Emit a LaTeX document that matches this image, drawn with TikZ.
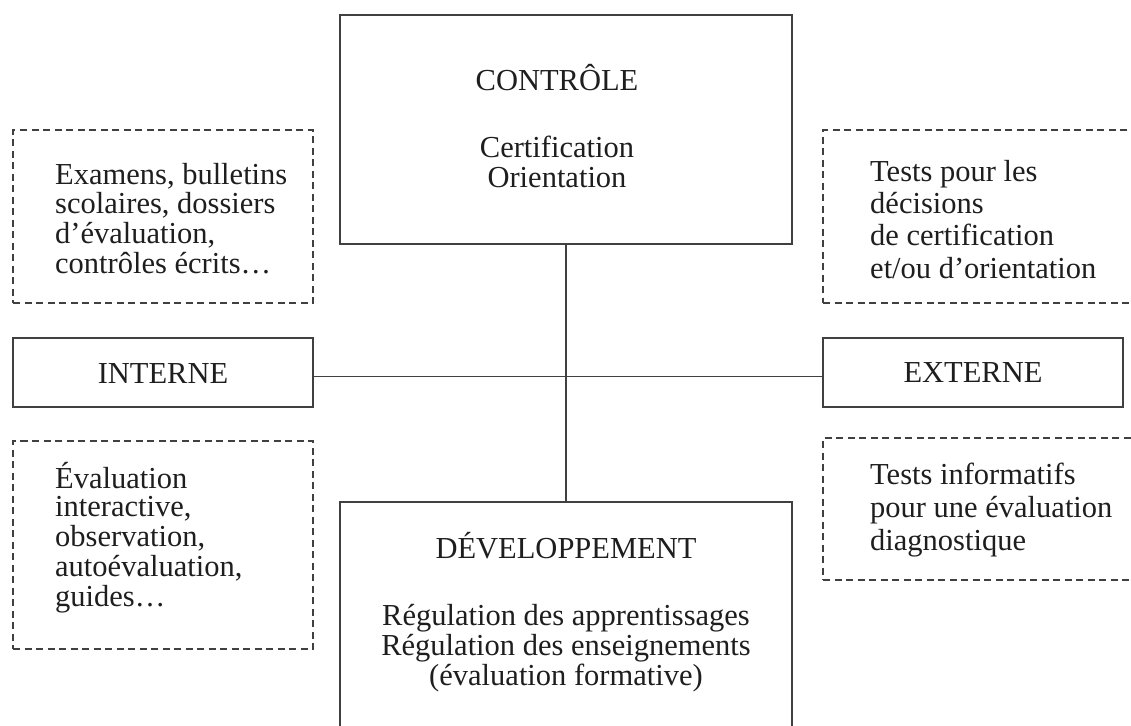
\documentclass[tikz,border=0pt]{standalone}
\usepackage{fontspec}
\setmainfont{Liberation Serif}
\definecolor{ink}{HTML}{1E1E1E}
\definecolor{rule}{HTML}{404040}
\begin{document}
\begin{tikzpicture}[x=1pt,y=-1pt,
  solidbox/.style={draw=rule,line width=1.4pt,rectangle,inner sep=0pt},
  dashbox/.style={draw=rule,line width=1.2pt,rectangle,inner sep=0pt,
    dash pattern=on 7pt off 4.5pt},
  link/.style={draw=rule,line width=1.4pt},
  txt/.style={inner sep=0pt,text=ink,font=\fontsize{30.5}{29.5}\selectfont},
  lines/.style={txt,anchor=base west},
  title/.style={txt,anchor=base}]
\clip (0,0) rectangle (1131,725);
\fill[white] (0,0) rectangle (1131,725);

% main boxes
\node[solidbox,minimum width=452pt,minimum height=229pt] (ctrl) at (566,129.5) {};
\node[solidbox,minimum width=452pt,minimum height=240pt] (dev) at (566,622) {};
\node[solidbox,minimum width=300pt,minimum height=69pt] (int) at (163,372.5) {};
\node[solidbox,minimum width=300pt,minimum height=69pt] (ext) at (973,372.5) {};

% dashed boxes of examples
\node[dashbox,minimum width=300pt,minimum height=173pt] (intA) at (163,216.5) {};
\node[dashbox,minimum width=300pt,minimum height=208pt] (intB) at (163,545) {};
\node[dashbox,minimum width=330pt,minimum height=173pt] (extA) at (988,216.5) {};
\node[dashbox,minimum width=330pt,minimum height=142pt] (extB) at (988,509) {};

% axes
\draw[link] (ctrl.south) -- (dev.north);
\draw[link] ([yshift=-4pt]int.east) -- ([yshift=-4pt]ext.west);

% texts
\node[title] (tctrl) at (557,90) {CONTRÔLE};
\node[title] (tctrl2) at (557,157) {\def\arraystretch{1.05}\begin{tabular}[t]{@{}c@{}}Certification\\Orientation\end{tabular}};
\node[title] (tdev) at (566,558) {DÉVELOPPEMENT};
\node[title] (tdev2) at (566,625) {\def\arraystretch{1.03}\begin{tabular}[t]{@{}c@{}}Régulation des apprentissages\\Régulation des enseignements\\(évaluation formative)\end{tabular}};
\node[title] (tint) at (163,383) {INTERNE};
\node[title] (text) at (973,382) {EXTERNE};

\node[lines] (tintA) at (55,184) {\def\arraystretch{0.97}\begin{tabular}[t]{@{}l@{}}Examens, bulletins\\scolaires, dossiers\\d’évaluation,\\contrôles écrits…\end{tabular}};
\node[lines] (tintB) at (55,488) {\def\arraystretch{0.97}\begin{tabular}[t]{@{}l@{}}Évaluation\\interactive,\\observation,\\autoévaluation,\\guides…\end{tabular}};
\node[lines] (textA) at (870,181) {\def\arraystretch{1.1}\begin{tabular}[t]{@{}l@{}}Tests pour les\\décisions\\de certification\\et/ou d’orientation\end{tabular}};
\node[lines] (textB) at (870,484) {\def\arraystretch{1.12}\begin{tabular}[t]{@{}l@{}}Tests informatifs\\pour une évaluation\\diagnostique\end{tabular}};
\end{tikzpicture}
\end{document}
